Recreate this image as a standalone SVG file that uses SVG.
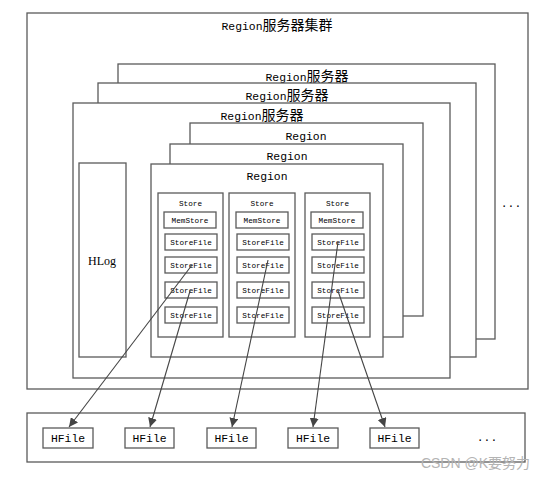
<svg xmlns="http://www.w3.org/2000/svg" width="544" height="480" viewBox="0 0 544 480">
<style>
.box{fill:#fff;stroke:#5a5a5a;stroke-width:1.3}
.t{font-family:"Liberation Mono","Noto Sans CJK SC",monospace;font-size:11.4px;fill:#000;text-anchor:middle}
.cjk{font-family:"Noto Sans CJK SC",sans-serif;font-size:14px}
.s{font-family:"Liberation Mono",monospace;font-size:7.7px;fill:#000;text-anchor:middle}
.hlog{font-family:"Liberation Serif",serif;font-size:12px;fill:#000;text-anchor:middle}
.conn{stroke:#444;stroke-width:1.1;fill:none;marker-end:url(#ah)}
.wm{font-family:"Liberation Sans","Noto Sans CJK SC",sans-serif;font-size:14px;fill:#b4b4b4;text-anchor:end}
</style>
<defs>
<marker id="ah" viewBox="0 0 10 10" refX="10" refY="5" markerWidth="9" markerHeight="9" markerUnits="userSpaceOnUse" orient="auto">
<path d="M0,0 L10,5 L0,10 z" fill="#444"/>
</marker>
</defs>
<rect width="544" height="480" fill="#fff"/>
<g id="cluster">
<rect class="box" x="27" y="13" width="501" height="376"/>
<text class="t" x="277" y="30">Region<tspan class="cjk">服务器集群</tspan></text>
<text class="t" x="511" y="207">...</text>
</g>
<g id="server1">
<rect class="box" x="118" y="64" width="377" height="275"/>
<text class="t" x="307" y="81">Region<tspan class="cjk">服务器</tspan></text>
</g>
<g id="server2">
<rect class="box" x="98" y="83" width="378" height="274"/>
<text class="t" x="287" y="100">Region<tspan class="cjk">服务器</tspan></text>
</g>
<g id="server3">
<rect class="box" x="73" y="103" width="377" height="275"/>
<text class="t" x="262" y="120">Region<tspan class="cjk">服务器</tspan></text>
</g>
<g id="region1">
<rect class="box" x="190" y="123" width="233" height="193"/>
<text class="t" x="306" y="140">Region</text>
</g>
<g id="region2">
<rect class="box" x="170" y="144" width="233" height="193"/>
<text class="t" x="287" y="160">Region</text>
</g>
<g id="region">
<rect class="box" x="151" y="164" width="232" height="193"/>
<text class="t" x="267" y="180">Region</text>
</g>
<g id="hlog">
<rect class="box" x="79" y="163" width="47" height="194"/>
<text class="hlog" x="102" y="265">HLog</text>
</g>
<g id="store1">
<rect class="box" x="158" y="193" width="65" height="144"/>
<text class="s" x="190.5" y="206">Store</text>
<rect class="box" x="164" y="212" width="52" height="16"/><text class="s" x="190" y="223">MemStore</text>
<rect class="box" x="165" y="234" width="52" height="16"/><text class="s" x="191" y="245">StoreFile</text>
<rect class="box" x="165" y="257" width="52" height="16"/><text class="s" x="191" y="268">StoreFile</text>
<rect class="box" x="165" y="282" width="52" height="16"/><text class="s" x="191" y="293">StoreFile</text>
<rect class="box" x="165" y="307" width="52" height="16"/><text class="s" x="191" y="318">StoreFile</text>
</g>
<g id="store2">
<rect class="box" x="229" y="193" width="66" height="144"/>
<text class="s" x="262" y="206">Store</text>
<rect class="box" x="236" y="212" width="52" height="16"/><text class="s" x="262" y="223">MemStore</text>
<rect class="box" x="237" y="234" width="52" height="16"/><text class="s" x="263" y="245">StoreFile</text>
<rect class="box" x="237" y="257" width="52" height="16"/><text class="s" x="263" y="268">StoreFile</text>
<rect class="box" x="237" y="282" width="52" height="16"/><text class="s" x="263" y="293">StoreFile</text>
<rect class="box" x="237" y="307" width="52" height="16"/><text class="s" x="263" y="318">StoreFile</text>
</g>
<g id="store3">
<rect class="box" x="305" y="193" width="65" height="144"/>
<text class="s" x="337.5" y="206">Store</text>
<rect class="box" x="311" y="212" width="52" height="16"/><text class="s" x="337" y="223">MemStore</text>
<rect class="box" x="312" y="234" width="52" height="16"/><text class="s" x="338" y="245">StoreFile</text>
<rect class="box" x="312" y="257" width="52" height="16"/><text class="s" x="338" y="268">StoreFile</text>
<rect class="box" x="312" y="282" width="52" height="16"/><text class="s" x="338" y="293">StoreFile</text>
<rect class="box" x="312" y="307" width="52" height="16"/><text class="s" x="338" y="318">StoreFile</text>
</g>
<g id="hdfs">
<rect class="box" x="27" y="413" width="498" height="49"/>
<text class="t" x="487" y="441">...</text>
</g>
<g id="hfile1"><rect class="box" x="43" y="428" width="50" height="20"/><text class="t" x="68" y="442">HFile</text></g>
<g id="hfile2"><rect class="box" x="125" y="428" width="49" height="20"/><text class="t" x="149.5" y="442">HFile</text></g>
<g id="hfile3"><rect class="box" x="207" y="428" width="49" height="20"/><text class="t" x="231.5" y="442">HFile</text></g>
<g id="hfile4"><rect class="box" x="288" y="428" width="50" height="20"/><text class="t" x="313" y="442">HFile</text></g>
<g id="hfile5"><rect class="box" x="370" y="428" width="49" height="20"/><text class="t" x="394.5" y="442">HFile</text></g>
<g id="connectors">
<line class="conn" x1="192" y1="265" x2="69" y2="427"/>
<line class="conn" x1="190" y1="291" x2="150" y2="427"/>
<line class="conn" x1="268" y1="260" x2="232" y2="427"/>
<line class="conn" x1="338" y1="242" x2="313" y2="427"/>
<line class="conn" x1="338" y1="291" x2="385" y2="427"/>
</g>
<text class="wm" x="530" y="468">CSDN @K要努力</text>
</svg>
